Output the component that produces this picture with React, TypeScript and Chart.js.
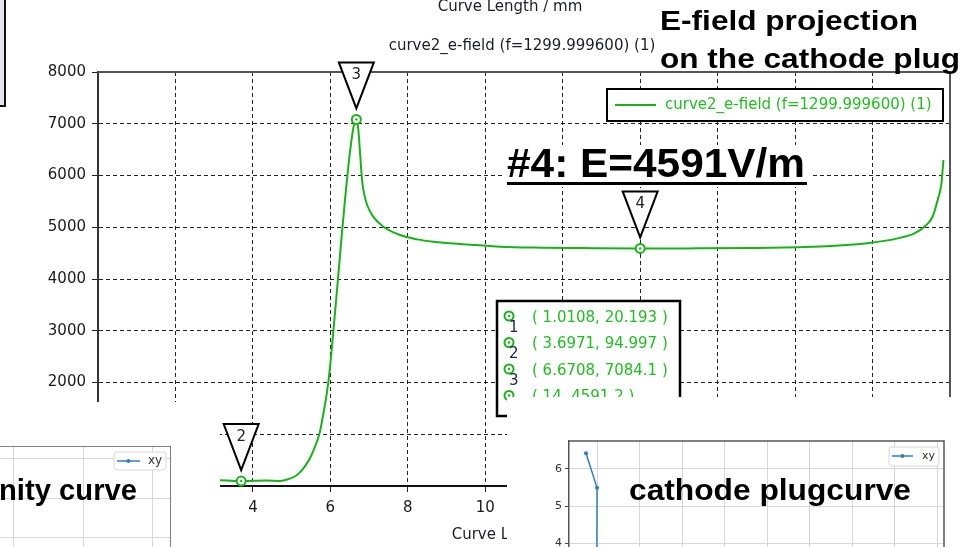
import React, { useEffect, useRef } from 'react';
import { Chart, registerables } from 'chart.js';

Chart.register(...registerables);

// ---------------- data ----------------
const seriesName = 'curve2_e-field (f=1299.999600) (1)';
const xAxisTitle = 'Curve Length / mm';

const curveX = [0, 0.5, 1.0108, 1.5, 2, 2.5, 3, 3.15, 3.6971, 4.0, 4.35, 4.7, 4.91, 5.13, 5.3, 5.47, 5.6, 5.72, 5.82, 5.91, 5.97, 6.03, 6.09, 6.15, 6.22, 6.3, 6.38, 6.46, 6.54, 6.61, 6.6708, 6.72, 6.77, 6.82, 6.88, 6.95, 7.1, 7.37, 7.8, 8.24, 8.66, 9.52, 10.39, 11.5, 12.5, 14, 15.5, 17, 18.1, 18.93, 19.96, 20.65, 21.08, 21.34, 21.55, 21.68, 21.78, 21.83];
const curveY = [15, 18, 20.193, 30, 45, 70, 100, 112, 94.997, 100, 104, 97, 130, 207, 336, 530, 755, 1013, 1400, 1800, 2150, 2600, 3100, 3600, 4200, 4900, 5550, 6150, 6650, 6980, 7084.1, 6900, 6400, 5900, 5620, 5430, 5210, 5010, 4850, 4766, 4720, 4669, 4623, 4605, 4598, 4591.2, 4592, 4600, 4615, 4636, 4700, 4785, 4882, 5010, 5203, 5525, 5850, 6300];

const markerX = [1.0108, 3.6971, 6.6708, 14];
const markerY = [20.193, 94.997, 7084.1, 4591.2];
const markerLabels = ['1', '2', '3', '4'];

const xTickStep = 2;
const yTickStep = 1000;

const cathodeX = [0.74, 1.0, 0.99];
const cathodeY = [6.41, 5.49, 2.0];
const insetLegend = 'xy';

const nityX: number[] = [];
const nityY: number[] = [];

const headline1 = 'E-field projection';
const headline2 = 'on the cathode plug';
const markerNote = '#4: E=4591V/m';
const cathodeNote = 'cathode plugcurve';
const nityNote = 'nity curve';

// ---------------- styles ----------------
const FONT = "'DejaVu Sans', sans-serif";
const BOLD = "'Liberation Sans', Arial, sans-serif";
const GREEN = '#17b317';
const GREEN_TXT = '#1fbf1f';
const BLUE = '#2f7fbf';

function fitText(ctx: CanvasRenderingContext2D, text: string, x: number, y: number, size: number, width: number) {
  ctx.save();
  ctx.font = `bold ${size}px ${BOLD}`;
  const w = ctx.measureText(text).width;
  ctx.translate(x, y);
  ctx.scale(width / w, 1);
  ctx.textAlign = 'left';
  ctx.textBaseline = 'alphabetic';
  ctx.fillStyle = '#000';
  ctx.fillText(text, 0, 0);
  ctx.restore();
}

function ring(ctx: CanvasRenderingContext2D, x: number, y: number) {
  ctx.save();
  ctx.strokeStyle = GREEN;
  ctx.fillStyle = '#fff';
  ctx.lineWidth = 2;
  ctx.beginPath();
  ctx.arc(x, y, 4.5, 0, Math.PI * 2);
  ctx.fill();
  ctx.stroke();
  ctx.fillStyle = GREEN;
  ctx.beginPath();
  ctx.arc(x, y, 1.2, 0, Math.PI * 2);
  ctx.fill();
  ctx.restore();
}

const mainDecor = {
  id: 'mainDecor',
  afterDraw(chart: any) {
    const ctx: CanvasRenderingContext2D = chart.ctx;
    const { left, right, top, bottom } = chart.chartArea;
    ctx.save();
    // frame top / right
    ctx.strokeStyle = '#555';
    ctx.lineWidth = 2;
    ctx.beginPath();
    ctx.moveTo(left, top);
    ctx.lineTo(right, top);
    ctx.lineTo(right, bottom);
    ctx.stroke();

    // titles
    ctx.fillStyle = '#1c1c2c';
    ctx.font = `15px ${FONT}`;
    ctx.textAlign = 'center';
    ctx.textBaseline = 'middle';
    ctx.fillText(xAxisTitle, 510, 7);
    ctx.fillText(seriesName, 522, 46);
    ctx.fillText(xAxisTitle, (left + right) / 2, 535);

    // legend
    ctx.fillStyle = '#fff';
    ctx.fillRect(607, 89, 336, 32);
    ctx.strokeStyle = '#000';
    ctx.lineWidth = 2;
    ctx.strokeRect(607, 89, 336, 32);
    ctx.strokeStyle = GREEN;
    ctx.beginPath();
    ctx.moveTo(615, 105);
    ctx.lineTo(656, 105);
    ctx.stroke();
    ctx.fillStyle = GREEN_TXT;
    ctx.textAlign = 'left';
    ctx.fillText(seriesName, 665, 105);

    // markers: rings + triangles
    const meta = chart.getDatasetMeta(0);
    meta.data.forEach((pt: any, i: number) => {
      const px = pt.x;
      const py = pt.y;
      ring(ctx, px, py);
      const tipY = py - 11;
      const topY = tipY - 46;
      ctx.beginPath();
      ctx.moveTo(px - 17.5, topY);
      ctx.lineTo(px + 17.5, topY);
      ctx.lineTo(px, tipY);
      ctx.closePath();
      ctx.fillStyle = '#fff';
      ctx.fill();
      ctx.strokeStyle = '#000';
      ctx.lineWidth = 2;
      ctx.stroke();
      ctx.fillStyle = '#1c1c2c';
      ctx.font = `15px ${FONT}`;
      ctx.textAlign = 'center';
      ctx.textBaseline = 'middle';
      ctx.fillText(markerLabels[i], px, topY + 13);
    });

    // marker table
    ctx.fillStyle = '#fff';
    ctx.fillRect(497, 301, 183, 115);
    ctx.strokeStyle = '#000';
    ctx.lineWidth = 2.5;
    ctx.strokeRect(497, 301, 183, 115);
    markerX.forEach((mx, i) => {
      const ry = 318 + 26.5 * i;
      ring(ctx, 509, ry - 2);
      ctx.fillStyle = GREEN_TXT;
      ctx.font = `15px ${FONT}`;
      ctx.textAlign = 'left';
      ctx.textBaseline = 'middle';
      ctx.fillText(`( ${mx}, ${markerY[i]} )`, 532, ry);
      ctx.fillStyle = '#1c2450';
      ctx.fillText(markerLabels[i], 509, ry + 10);
    });

    // #4 note
    ctx.fillStyle = '#fff';
    ctx.fillRect(505, 145, 306, 42);
    fitText(ctx, markerNote, 507, 177, 40, 298);
    ctx.fillStyle = '#000';
    ctx.fillRect(507, 182, 300, 3);

    // headline
    fitText(ctx, headline1, 660, 30, 28, 258);
    fitText(ctx, headline2, 660, 68, 28, 300);
    ctx.restore();
  },
};

function insetDecor(legendBox: number[], lineSeg: number[], textX: number, fontPx: number, note: { text: string; x: number; y: number; size: number; width: number }) {
  return {
    id: 'insetDecor',
    afterDraw(chart: any) {
      const ctx: CanvasRenderingContext2D = chart.ctx;
      const { left, right, top, bottom } = chart.chartArea;
      ctx.save();
      ctx.strokeStyle = '#555';
      ctx.lineWidth = 1.5;
      ctx.beginPath();
      ctx.moveTo(left, top);
      ctx.lineTo(right, top);
      ctx.lineTo(right, bottom);
      ctx.stroke();
      // legend
      const [bx, by, bw, bh] = legendBox;
      ctx.fillStyle = 'rgba(255,255,255,0.85)';
      ctx.strokeStyle = '#d8d8d8';
      ctx.lineWidth = 1;
      ctx.beginPath();
      (ctx as any).roundRect ? (ctx as any).roundRect(bx, by, bw, bh, 3) : ctx.rect(bx, by, bw, bh);
      ctx.fill();
      ctx.stroke();
      const [lx1, lx2, ly] = lineSeg;
      ctx.strokeStyle = BLUE;
      ctx.lineWidth = 1.5;
      ctx.beginPath();
      ctx.moveTo(lx1, ly);
      ctx.lineTo(lx2, ly);
      ctx.stroke();
      ctx.fillStyle = BLUE;
      ctx.beginPath();
      ctx.arc((lx1 + lx2) / 2, ly, 2, 0, Math.PI * 2);
      ctx.fill();
      ctx.fillStyle = '#333';
      ctx.font = `${fontPx}px ${FONT}`;
      ctx.textAlign = 'left';
      ctx.textBaseline = 'middle';
      ctx.fillText(insetLegend, textX, ly);
      fitText(ctx, note.text, note.x, note.y, note.size, note.width);
      ctx.restore();
    },
  };
}

const plainTick = (v: any) => String(v);

export default function App() {
  const mainRef = useRef<HTMLCanvasElement>(null);
  const cathRef = useRef<HTMLCanvasElement>(null);
  const nityRef = useRef<HTMLCanvasElement>(null);

  useEffect(() => {
    Chart.defaults.font.family = FONT;
    const charts: Chart[] = [];

    const curveData = curveX.map((x, i) => ({ x, y: curveY[i] }));
    const markerData = markerX.map((x, i) => ({ x, y: markerY[i] }));

    charts.push(
      new Chart(mainRef.current as HTMLCanvasElement, {
        type: 'line',
        data: {
          datasets: [
            {
              label: 'markers',
              data: markerData,
              showLine: false,
              pointRadius: 0,
              borderColor: GREEN,
              backgroundColor: '#fff',
            },
            {
              label: seriesName,
              data: curveData,
              borderColor: GREEN,
              borderWidth: 2,
              pointRadius: 0,
              cubicInterpolationMode: 'monotone',
              fill: false,
            },
          ],
        },
        options: {
          animation: false,
          responsive: false,
          maintainAspectRatio: false,
          layout: { padding: { top: 72, right: 28, left: 0, bottom: 0 } },
          plugins: { legend: { display: false }, tooltip: { enabled: false }, title: { display: false } },
          scales: {
            x: {
              type: 'linear',
              min: 0,
              max: 22,
              afterFit: (s: any) => {
                s.height = 61;
              },
              ticks: { stepSize: xTickStep, color: '#1a1a1a', font: { size: 15, family: FONT }, padding: 7, maxRotation: 0, callback: plainTick },
              grid: { color: '#222', lineWidth: 1, tickLength: 6, tickColor: '#222', tickBorderDash: [] } as any,
              border: { display: true, color: '#111', width: 2, dash: [4, 3] } as any,
            },
            y: {
              type: 'linear',
              min: 0,
              max: 8000,
              afterFit: (s: any) => {
                s.width = 98;
              },
              ticks: { stepSize: yTickStep, color: '#1a1a1a', font: { size: 15, family: FONT }, padding: 6, callback: plainTick },
              grid: { color: '#222', lineWidth: 1, tickLength: 6, tickColor: '#222', tickBorderDash: [] } as any,
              border: { display: true, color: '#333', width: 2, dash: [4, 3] } as any,
            },
          },
        },
        plugins: [mainDecor],
      } as any)
    );

    charts.push(
      new Chart(cathRef.current as HTMLCanvasElement, {
        type: 'line',
        data: {
          datasets: [
            {
              label: insetLegend,
              data: cathodeX.map((x, i) => ({ x, y: cathodeY[i] })),
              borderColor: BLUE,
              backgroundColor: BLUE,
              borderWidth: 1.5,
              pointRadius: 2,
              pointBorderWidth: 0,
              tension: 0,
            },
          ],
        },
        options: {
          animation: false,
          responsive: false,
          maintainAspectRatio: false,
          layout: { padding: { top: 11, right: 34, left: 0, bottom: 0 } },
          plugins: { legend: { display: false }, tooltip: { enabled: false } },
          scales: {
            x: {
              type: 'linear',
              min: 0.34,
              max: 9.16,
              afterFit: (s: any) => {
                s.height = 0;
              },
              ticks: { display: false, stepSize: 1, includeBounds: false },
              grid: { color: '#d6d6d6', lineWidth: 1, drawTicks: false },
              border: { display: false },
            },
            y: {
              type: 'linear',
              min: 0.61,
              max: 6.74,
              afterFit: (s: any) => {
                s.width = 29;
              },
              ticks: { stepSize: 1, includeBounds: false, color: '#333', font: { size: 11, family: FONT }, padding: 3 },
              grid: { color: '#d6d6d6', lineWidth: 1, tickLength: 4, tickColor: '#444' },
              border: { display: true, color: '#555', width: 1.5 },
            },
          },
        },
        plugins: [
          insetDecor([349, 17, 50, 19], [352, 373, 26], 382, 11, { text: cathodeNote, x: 89, y: 70, size: 29, width: 282 }),
        ],
      } as any)
    );

    charts.push(
      new Chart(nityRef.current as HTMLCanvasElement, {
        type: 'line',
        data: {
          datasets: [
            {
              label: insetLegend,
              data: nityX.map((x, i) => ({ x, y: nityY[i] })),
              borderColor: BLUE,
              pointRadius: 2,
            },
          ],
        },
        options: {
          animation: false,
          responsive: false,
          maintainAspectRatio: false,
          layout: { padding: 0 },
          plugins: { legend: { display: false }, tooltip: { enabled: false } },
          scales: {
            x: {
              type: 'linear',
              min: 0,
              max: 3.26,
              afterFit: (s: any) => {
                s.height = 0;
              },
              ticks: { display: false, stepSize: 1, includeBounds: false },
              grid: { color: '#d6d6d6', lineWidth: 1, drawTicks: false },
              border: { display: false },
            },
            y: {
              type: 'linear',
              min: 2.49,
              max: 6.333,
              afterFit: (s: any) => {
                s.width = 0;
              },
              ticks: { display: false, stepSize: 1, includeBounds: false },
              grid: { color: '#d6d6d6', lineWidth: 1, drawTicks: false },
              border: { display: false },
            },
          },
        },
        plugins: [
          insetDecor([170, 6, 52, 18], [173, 196, 15], 204, 12, { text: nityNote, x: 55, y: 54, size: 29, width: 138 }),
        ],
      } as any)
    );

    return () => charts.forEach((c) => c.destroy());
  }, []);

  return (
    <div style={{ position: 'fixed', left: 0, top: 0, width: 978, height: 547, overflow: 'hidden', background: '#fff' }}>
      <canvas ref={mainRef} width={978} height={547} style={{ position: 'absolute', left: 0, top: 0, width: 978, height: 547 }} />
      <div
        style={{
          position: 'absolute',
          left: -2,
          top: -2,
          width: 8,
          height: 109,
          boxSizing: 'border-box',
          background: '#e6e6ee',
          border: '2px solid #111',
        }}
      />
      <div style={{ position: 'absolute', left: 0, top: 402, width: 220, height: 145, background: '#fff' }} />
      <div style={{ position: 'absolute', left: 507, top: 397, width: 471, height: 150, background: '#fff' }} />
      <canvas ref={nityRef} width={227} height={150} style={{ position: 'absolute', left: -56, top: 446, width: 227, height: 150 }} />
      <canvas ref={cathRef} width={438} height={250} style={{ position: 'absolute', left: 540, top: 430, width: 438, height: 250 }} />
    </div>
  );
}
